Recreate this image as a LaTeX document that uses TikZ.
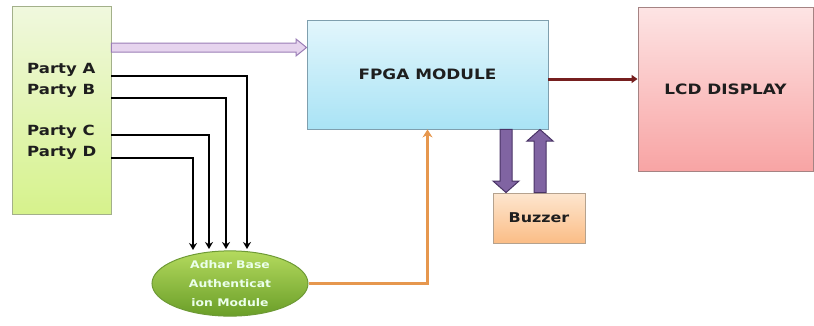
\documentclass[tikz,border=0pt]{standalone}
\usepackage{fontspec}
\setmainfont{DejaVu Sans}
\newfontfamily\lblfont{DejaVu Sans}[FakeStretch=1.18]
\usetikzlibrary{arrows.meta,shapes.geometric,calc}
\definecolor{gTop}{HTML}{F0F8DE}
\definecolor{gBot}{HTML}{D6F28C}
\definecolor{gLine}{HTML}{A3B08A}
\definecolor{cTop}{HTML}{E2F6FC}
\definecolor{cBot}{HTML}{A9E3F5}
\definecolor{cLine}{HTML}{7F9FAE}
\definecolor{pTop}{HTML}{FDE4E4}
\definecolor{pBot}{HTML}{F8A4A4}
\definecolor{pLine}{HTML}{A58383}
\definecolor{oTop}{HTML}{FDE6CF}
\definecolor{oBot}{HTML}{FBBD86}
\definecolor{oLine}{HTML}{B5A28E}
\definecolor{eTop}{HTML}{B4DA5E}
\definecolor{eBot}{HTML}{6A9E28}
\definecolor{eLine}{HTML}{6E9A36}
\definecolor{lavFill}{HTML}{E6D4EE}
\definecolor{lavLine}{HTML}{9A7DB6}
\definecolor{purFill}{HTML}{8064A2}
\definecolor{purLine}{HTML}{4A3466}
\definecolor{darkRed}{HTML}{761F1F}
\definecolor{orangeLn}{HTML}{E6974E}
\definecolor{txt}{HTML}{1E1E1E}
\tikzset{
  box/.style={draw, line width=0.9pt, inner sep=0pt, font=\lblfont\bfseries\fontsize{14.3}{16}\selectfont, text=txt},
  lbl/.style={font=\lblfont\bfseries\fontsize{14}{15}\selectfont, text=txt, inner sep=0pt, anchor=west},
  wire/.style={line width=1.8pt, -{Stealth[length=7pt,width=8pt]}},
  hollow/.style={fill=lavFill, draw=lavLine, line width=1pt, line join=miter},
  blockar/.style={fill=purFill, draw=purLine, line width=1pt, line join=miter},
}
\begin{document}
\begin{tikzpicture}[x=1pt,y=-1pt]
\useasboundingbox (0,0) rectangle (814,325);
% left box
\node[box, draw=gLine, top color=gTop, bottom color=gBot, minimum width=99pt, minimum height=208pt] (L) at (61.5,110) {};
\node[lbl] (pa) at (27,70) {Party A};
\node[lbl] (pb) at (27,91) {Party B};
\node[lbl] (pc) at (27,132) {Party C};
\node[lbl] (pd) at (27,153) {Party D};
% FPGA
\node[box, draw=cLine, top color=cTop, bottom color=cBot, minimum width=241pt, minimum height=109pt] (F) at (427.5,74.5) {FPGA MODULE};
% LCD
\node[box, draw=pLine, top color=pTop, bottom color=pBot, minimum width=175pt, minimum height=164pt] (D) at (725.5,89) {LCD DISPLAY};
% Buzzer
\node[box, draw=oLine, top color=oTop, bottom color=oBot, minimum width=92pt, minimum height=50pt, font=\lblfont\bfseries\fontsize{13.5}{16}\selectfont] (B) at (539,218) {Buzzer};
% Ellipse
\node[ellipse, draw=eLine, line width=1pt, top color=eTop, bottom color=eBot, minimum width=156pt, minimum height=65pt, inner sep=0pt,
      align=center, text=white!92!green, font=\lblfont\bfseries\fontsize{10.5}{19}\selectfont] (E) at (230,283.5) {Adhar Base\\Authenticat\\ion Module};
% end points of black wires
\coordinate (ea) at (247,249);
\coordinate (eb) at (226,249);
\coordinate (ec) at (209,249);
\coordinate (ed) at (193,250);
\draw[wire] (L.east |- 0,76) -| (ea);
\draw[wire] (L.east |- 0,98) -| (eb);
\draw[wire] (L.east |- 0,135) -| (ec);
\draw[wire] (L.east |- 0,158) -| (ed);
% hollow lavender arrow L -> F
\draw[hollow] (L.east |- 0,43) -- (296,43) -- (296,39) -- (F.west |- 0,47.5) -- (296,56) -- (296,52) -- (L.east |- 0,52) -- cycle;
% orange E -> F
\draw[line width=2.6pt, orangeLn, -{Stealth[length=8pt,width=10pt]}] (E.east) -| (F.south);
% dark red F -> D
\draw[line width=3pt, darkRed, -{Triangle[length=6pt,width=8pt]}] ([yshift=-4.5pt]F.east) -- ([yshift=-4.5pt]F.east -| D.west);
% purple block arrows
\draw[blockar] (F.south -| 500,0) -- (500,181) -- (493,181) -- (B.north -| 506,0) -- (519,181) -- (512,181) -- (F.south -| 512,0) -- cycle;
\draw[blockar] (B.north -| 534,0) -- (534,141) -- (527,141) -- (F.south -| 540,0) -- (553,141) -- (546,141) -- (B.north -| 546,0) -- cycle;
\end{tikzpicture}
\end{document}
